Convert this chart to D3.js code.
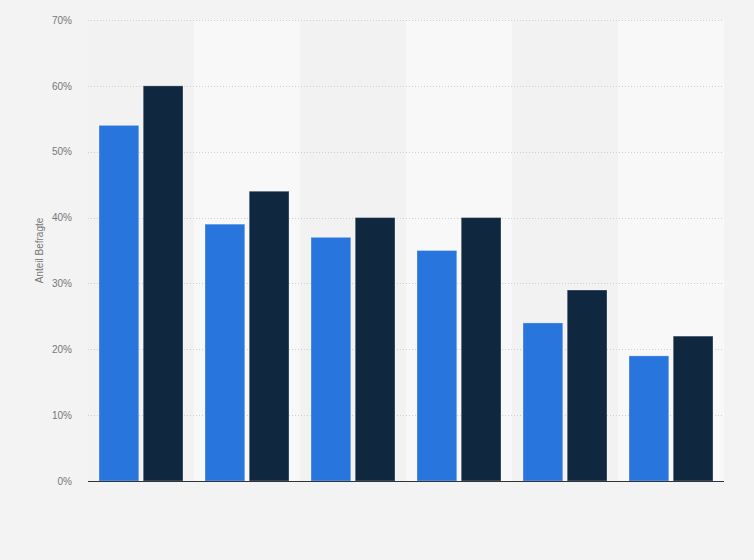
<!DOCTYPE html>
<html lang="de">
<head>
  <meta charset="UTF-8">
  <script src="https://cdn.jsdelivr.net/npm/d3@7"></script>
  <title>Anteil Befragte</title>
  <style>
    body { margin: 0; background: #f3f3f3; }
    svg { display: block; font-family: "Liberation Sans", Arial, sans-serif; }
  </style>
</head>
<body>
  <svg width="754" height="560" id="chart"></svg>
  <script>
    // data
    let categories = ["A", "B", "C", "D", "E", "F"];
    let series1 = [54, 39, 37, 35, 24, 19];
    let series2 = [60, 44, 40, 40, 29, 22];
    let yTicks = [0, 10, 20, 30, 40, 50, 60, 70];

    let svg = d3.select("#chart");
    let margin = {left: 88, right: 30, top: 20, bottom: 79};
    let width = 754 - margin.left - margin.right;
    let height = 560 - margin.top - margin.bottom;

    let g = svg.append("g").attr("transform", `translate(${margin.left},${margin.top})`);

    let x = d3.scaleBand().domain(categories).range([0, width]).padding(0);
    let inner = d3.scaleBand().domain([0, 1]).range([11, x.bandwidth() - 11]).paddingInner(0.1);
    let y = d3.scaleLinear().domain([0, 70]).range([height, 0]);

    // alternating column backgrounds
    g.selectAll(".band")
      .data(categories)
      .enter()
      .append("rect")
      .attr("x", d => x(d))
      .attr("y", 0)
      .attr("width", x.bandwidth())
      .attr("height", height)
      .attr("fill", (d, i) => i % 2 ? "#f8f8f8" : "#f2f2f2");

    // grid lines
    g.selectAll(".grid")
      .data(yTicks.filter(t => t > 0))
      .enter()
      .append("line")
      .attr("x1", 0)
      .attr("x2", width)
      .attr("y1", d => Math.round(y(d)) + 0.5)
      .attr("y2", d => Math.round(y(d)) + 0.5)
      .attr("stroke", "#cfcfcf")
      .attr("stroke-dasharray", "1,2");

    // y axis labels
    let yAxis = d3.axisLeft(y).tickValues(yTicks).tickFormat(d => d + "%").tickSize(0).tickPadding(16);
    let ya = g.append("g").call(yAxis);
    ya.select(".domain").remove();
    ya.selectAll("text").attr("fill", "#777").style("font-size", "10px");

    // bars
    let data = categories.map((c, i) => [series1[i], series2[i]]);
    let colors = ["#2876dd", "#0f2840"];
    let grp = g.selectAll(".cat")
      .data(data)
      .enter()
      .append("g")
      .attr("transform", (d, i) => `translate(${x(categories[i])},0)`);

    grp.selectAll("rect")
      .data(d => d)
      .enter()
      .append("rect")
      .attr("x", (d, j) => inner(j))
      .attr("y", d => y(d))
      .attr("width", inner.bandwidth())
      .attr("height", d => height - y(d))
      .attr("fill", (d, j) => colors[j])
      .attr("stroke", "#ffffff")
      .attr("stroke-opacity", 0.3)
      .attr("stroke-width", 1);

    // baseline
    g.append("line")
      .attr("x1", 0)
      .attr("x2", width)
      .attr("y1", height + 0.5)
      .attr("y2", height + 0.5)
      .attr("stroke", "#333")
      .attr("stroke-width", 1);

    // axis title
    svg.append("text")
      .text("Anteil Befragte")
      .attr("transform", `translate(43,${margin.top + height / 2}) rotate(-90)`)
      .attr("text-anchor", "middle")
      .attr("fill", "#777")
      .style("font-size", "10px");
  </script>
</body>
</html>
